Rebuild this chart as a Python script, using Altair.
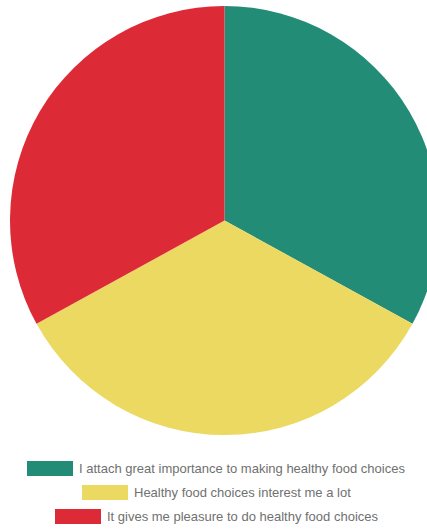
import altair as alt
import pandas as pd

categories = [
    "I attach great importance to making healthy food choices",
    "Healthy food choices interest me a lot",
    "It gives me pleasure to do healthy food choices",
]
values = [33, 34, 33]
colors = ["#238c77", "#ebd961", "#dd2a37"]
order = [0, 1, 2]

df = pd.DataFrame({"category": categories, "value": values, "order": order})

base = alt.Chart(df)

pie = base.mark_arc(outerRadius=214.5, stroke=None).encode(
    theta=alt.Theta("value:Q", stack=True),
    color=alt.Color("category:N", scale=alt.Scale(domain=categories, range=colors), legend=None),
    order=alt.Order("order:Q"),
    x=alt.value(224.5),
    y=alt.value(220.5),
)

# top-left of each legend swatch (layout)
legend_pos = [(27, 461), (82, 485), (55, 509)]

layers = [pie]
for cat, col, (lx, ly) in zip(categories, colors, legend_pos):
    lyr = base.transform_filter(alt.datum.category == cat).mark_point(
        filled=True, opacity=0, shape="square"
    ).encode(
        color=alt.Color(
            "category:N",
            scale=alt.Scale(domain=[cat], range=[col]),
            legend=alt.Legend(
                title=None,
                orient="none",
                legendX=lx,
                legendY=ly + 7.5 - 23,
                symbolType="M-1,-0.326H1V0.326H-1Z",
                symbolSize=2116,
                symbolOpacity=1,
                symbolFillColor=col,
                symbolStrokeColor=col,
                symbolStrokeWidth=0,
                labelFont="Liberation Sans",
                labelFontSize=13,
                labelColor="#707070",
                labelOffset=6,
                labelLimit=500,
                padding=0,
            ),
        ),
        x=alt.value(224.5),
        y=alt.value(220.5),
    )
    layers.append(lyr)

chart = alt.layer(*layers).resolve_scale(color="independent").properties(
    width=427, height=529, padding=0, autosize=alt.AutoSizeParams(type="none")
).configure_view(stroke=None)

chart.save("out.html", embed_options={"renderer": "svg", "actions": False})
